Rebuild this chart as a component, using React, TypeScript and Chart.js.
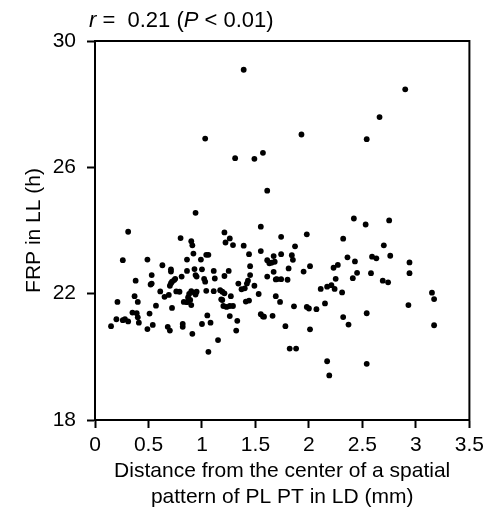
import { useEffect, useRef } from "react";
import { Chart, registerables } from "chart.js";

Chart.register(...registerables);

const FONT = "'Liberation Sans', Arial, Helvetica, sans-serif";

// Distance from the center of a spatial pattern of PL PT in LD (mm)
const distanceMm: number[] = [
  1.39, 1.03, 1.31, 1.49, 1.57, 1.61, 0.94, 2.90, 2.66, 1.93, 2.54, 2.42, 2.53, 2.75,
  0.31, 0.26, 0.21, 0.15, 0.20, 0.26, 0.28, 0.31, 0.37, 0.38, 0.40, 0.35, 0.39, 0.40, 0.41,
  0.49, 0.49, 0.51, 0.53, 0.52, 0.53, 0.54, 0.57, 0.61, 0.63, 0.65, 0.68, 0.70, 0.69, 0.71,
  0.71, 0.72, 0.71, 0.72, 0.74, 0.75, 0.70, 0.76, 0.79, 0.80, 0.81, 0.82, 0.82, 0.83, 0.86,
  0.86, 0.86, 0.87, 0.88, 0.89, 0.90, 0.90, 0.91, 0.92, 0.91, 0.90, 0.93, 0.94, 0.95, 0.93,
  0.94, 0.95, 0.99, 1.00, 1.00, 1.02, 1.03, 1.04, 1.06, 1.04, 1.05, 1.06, 1.08, 1.11, 1.11,
  1.12, 1.15, 1.17, 1.19, 1.21, 1.18, 1.19, 1.21, 1.21, 1.22, 1.26, 1.25, 1.20, 1.23, 1.26,
  1.29, 1.26, 1.27, 1.29, 1.33, 1.32, 1.34, 1.37, 1.40, 1.39, 1.41, 1.44, 1.42, 1.43, 1.44,
  1.45, 1.45, 1.49, 1.53, 1.55, 1.55, 1.55, 1.57, 1.58, 1.61, 1.61, 1.63, 1.65, 1.68, 1.66,
  1.67, 1.67, 1.69, 1.70, 1.69, 1.73, 1.74, 1.74, 1.74, 1.78,
  1.84, 1.85, 1.87, 1.98, 1.81, 1.95, 2.01, 1.80, 1.86, 1.98, 2.00, 2.07, 2.01, 1.82, 1.88,
  2.11, 2.15, 2.17, 2.21, 2.24, 2.23, 2.27, 2.25, 2.31, 2.32, 2.32, 2.36, 2.37, 2.17, 2.19,
  2.41, 2.43, 2.45, 2.54, 2.54, 2.58, 2.59, 2.63, 2.69, 2.70, 2.74, 2.76, 2.93, 2.94, 2.94,
  3.15, 3.17, 3.17,
];

// FRP in LL (h)
const frpHours: number[] = [
  29.09, 26.91, 26.29, 26.27, 26.46, 25.26, 24.56, 28.47, 27.59, 27.04, 26.89, 24.38, 24.19, 24.32,
  23.96, 23.06, 21.74, 20.97, 21.19, 21.16, 21.19, 21.12, 21.92, 22.41, 21.74, 21.40, 21.38, 21.25, 21.08,
  23.08, 20.88, 21.37, 22.59, 22.29, 22.32, 21.01, 21.62, 22.07, 22.90, 21.90, 20.95, 20.83, 21.96, 22.77,
  22.70, 21.55, 22.33, 22.38, 22.43, 22.47, 22.25, 22.07, 22.06, 23.76, 22.54, 21.04, 20.95, 21.74, 23.08,
  22.72, 21.73, 21.88, 21.99, 21.80, 21.64, 23.66, 23.53, 23.27, 20.73, 22.08, 22.03, 21.97, 22.06, 22.78,
  22.59, 22.54, 23.08, 22.77, 21.04, 22.47, 22.38, 23.23, 23.23, 22.09, 21.31, 20.16, 21.08, 22.08, 22.72,
  22.48, 20.53, 22.11, 22.06, 22.01, 21.82, 21.80, 22.56, 23.94, 23.62, 23.75, 22.72, 21.61, 21.58, 21.61,
  21.61, 21.29, 21.92, 23.54, 21.14, 20.83, 22.32, 22.14, 22.17, 23.52, 21.75, 21.78, 22.32, 22.41, 23.25,
  22.59, 22.87, 22.25, 21.99, 24.12, 23.35, 21.35, 21.28, 21.27, 22.54, 23.06, 22.96, 22.98, 23.01, 21.30,
  23.19, 22.69, 22.45, 22.46, 21.92, 21.74, 23.25, 22.46, 23.80, 20.97,
  23.22, 23.07, 23.50, 23.88, 22.80, 22.70, 22.87, 22.44, 21.60, 21.58, 21.53, 21.51, 20.87, 20.26, 20.26,
  22.15, 21.69, 22.22, 22.27, 22.15, 22.82, 22.91, 22.47, 22.04, 21.26, 23.74, 23.15, 21.02, 19.86, 19.41,
  22.49, 23.02, 22.66, 21.38, 19.78, 22.65, 23.17, 23.12, 22.41, 23.53, 22.36, 23.20, 21.64, 22.99, 22.65,
  22.03, 21.83, 21.00,
];

const xTickValues: number[] = [0, 0.5, 1, 1.5, 2, 2.5, 3, 3.5];
const yTickValues: number[] = [18, 22, 26, 30];

const xTitleLines: string[] = ["Distance from the center of a spatial", "pattern of PL PT in LD (mm)"];
const yTitleText = "FRP in LL (h)";

const statParts: { text: string; italic: boolean }[] = [
  { text: "r", italic: true },
  { text: " =  0.21 (", italic: false },
  { text: "P", italic: true },
  { text: " < 0.01)", italic: false },
];

const boxPlugin = {
  id: "boxFrame",
  afterDraw(chart: any) {
    const { ctx, chartArea } = chart;
    ctx.save();
    ctx.strokeStyle = "#000";
    ctx.lineWidth = 2;
    ctx.strokeRect(chartArea.left, chartArea.top, chartArea.right - chartArea.left, chartArea.bottom - chartArea.top);
    ctx.restore();
  },
};

const statPlugin = {
  id: "statText",
  afterDraw(chart: any) {
    const { ctx, chartArea } = chart;
    ctx.save();
    ctx.fillStyle = "#000";
    ctx.textBaseline = "middle";
    ctx.textAlign = "left";
    let x = chartArea.left - 6;
    const y = chartArea.top - 20;
    for (const p of statParts) {
      ctx.font = `${p.italic ? "italic " : ""}22px ${FONT}`;
      ctx.fillText(p.text, x, y);
      x += ctx.measureText(p.text).width;
    }
    ctx.restore();
  },
};

export default function App() {
  const canvasRef = useRef<HTMLCanvasElement | null>(null);

  useEffect(() => {
    const canvas = canvasRef.current;
    if (!canvas) return;
    const points = distanceMm.map((d, i) => ({ x: d, y: frpHours[i] }));
    const chart = new Chart(canvas, {
      type: "scatter",
      data: {
        datasets: [
          {
            data: points,
            backgroundColor: "#000",
            borderColor: "#000",
            borderWidth: 0,
            pointRadius: 2.9,
            pointHoverRadius: 2.9,
          },
        ],
      },
      options: {
        responsive: false,
        animation: false,
        events: [],
        layout: { padding: { top: 41, right: 16, bottom: 0, left: 0 } },
        plugins: {
          legend: { display: false },
          tooltip: { enabled: false },
          title: { display: false },
        },
        scales: {
          x: {
            type: "linear",
            min: 0,
            max: 3.5,
            afterFit: (scale: any) => {
              scale.height = 92;
            },
            afterBuildTicks: (scale: any) => {
              scale.ticks = xTickValues.map((v) => ({ value: v }));
            },
            ticks: {
              color: "#000",
              font: { family: FONT, size: 21 },
              padding: 5,
              maxRotation: 0,
              autoSkip: false,
              callback: (v: any) => String(v),
            },
            grid: {
              display: true,
              drawOnChartArea: false,
              drawTicks: true,
              tickLength: 8,
              tickWidth: 2,
              tickColor: "#000",
            },
            border: { display: true, color: "#000", width: 2 },
            title: {
              display: true,
              text: xTitleLines,
              color: "#000",
              font: { family: FONT, size: 21, lineHeight: 1.22 },
              padding: { top: 0, bottom: 2 },
            },
          },
          y: {
            type: "linear",
            min: 18,
            max: 30,
            afterFit: (scale: any) => {
              scale.width = 95;
            },
            afterBuildTicks: (scale: any) => {
              scale.ticks = yTickValues.map((v) => ({ value: v }));
            },
            ticks: {
              color: "#000",
              font: { family: FONT, size: 21 },
              padding: 11,
              autoSkip: false,
              callback: (v: any) => String(v),
            },
            grid: {
              display: true,
              drawOnChartArea: false,
              drawTicks: true,
              tickLength: 8,
              tickWidth: 2,
              tickColor: "#000",
            },
            border: { display: true, color: "#000", width: 2 },
            title: {
              display: true,
              text: yTitleText,
              color: "#000",
              font: { family: FONT, size: 21, lineHeight: 1.25 },
              padding: { top: 21, bottom: 0 },
            },
          },
        },
      },
      plugins: [boxPlugin, statPlugin],
    });
    return () => chart.destroy();
  }, []);

  return (
    <div style={{ position: "absolute", left: 0, top: 0, width: 489, height: 512, background: "#fff" }}>
      <canvas ref={canvasRef} width={489} height={512} style={{ display: "block" }} />
    </div>
  );
}
